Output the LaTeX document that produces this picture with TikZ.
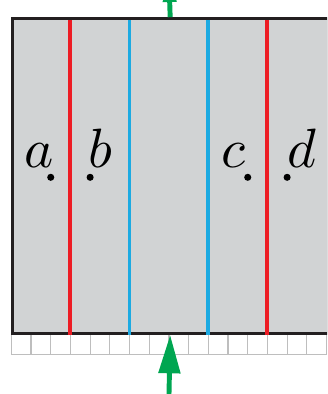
\documentclass[tikz,border=0pt]{standalone}
\usepackage{tikz}
\usetikzlibrary{arrows.meta,positioning}
\definecolor{slabgray}{RGB}{209,211,212}
\definecolor{edgedark}{RGB}{35,31,32}
\definecolor{linered}{RGB}{237,28,36}
\definecolor{lineblue}{RGB}{28,170,226}
\definecolor{flowgreen}{RGB}{0,166,81}
\definecolor{cellgray}{RGB}{190,190,190}

\begin{document}
\begin{tikzpicture}[
        slab/.style={draw=edgedark, fill=slabgray, line width=3.6pt, inner sep=0pt, minimum size=16cm},
        redline/.style={draw=linered, line width=5.6pt},
        blueline/.style={draw=lineblue, line width=5.6pt},
        cellline/.style={draw=cellgray, line width=1.8pt},
        dot/.style={circle, fill=black, inner sep=0pt, minimum size=0.36cm},
        lbl/.style={inner sep=0pt, scale=8},
        flowin/.style={-{Triangle[width=1.07cm,length=1.95cm]}, draw=flowgreen, line width=0.25cm},
        flowout/.style={-{Triangle[width=0.65cm,length=1.2cm]}, draw=flowgreen, line width=0.25cm}
    ]
        \useasboundingbox (-0.575,-3) rectangle (16.03,17);
        \clip (-0.575,-3) rectangle (16.03,17);
        % row of cells under the slab
        \foreach \i in {0,...,16}
            \draw[cellline] (\i,0) -- (\i,-1);
        \draw[cellline] (0,-1) -- (16,-1);
        \node[slab, anchor=south west] (box) at (0,0) {};
        % coloured lines
        \draw[redline] (3,0) -- (3,16);
        \draw[blueline] (6,0) -- (6,16);
        \draw[blueline] (10,0) -- (10,16);
        \draw[redline] (13,0) -- (13,16);
        % points and labels
        \node[dot] (pa) at (2,8) {};
        \node[dot] (pb) at (4,8) {};
        \node[dot] (pc) at (12,8) {};
        \node[dot] (pd) at (14,8) {};
        \node[lbl, above left=0.3cm and -0.33cm of pa] (la) {$a$};
        \node[lbl, above right=0.32cm and -0.25cm of pb] (lb) {$b$};
        \node[lbl, above left=0.3cm and -0.06cm of pc] (lc) {$c$};
        \node[lbl, above right=0.32cm and -0.15cm of pd] (ld) {$d$};
        % flow arrows
        \coordinate (src) at (8,-3.2);
        \coordinate (sink) at (8,18.1);
        \draw[flowin] (src) -- (box.south);
        \draw[flowout] (box.north) -- (sink);
    \end{tikzpicture}
\end{document}
